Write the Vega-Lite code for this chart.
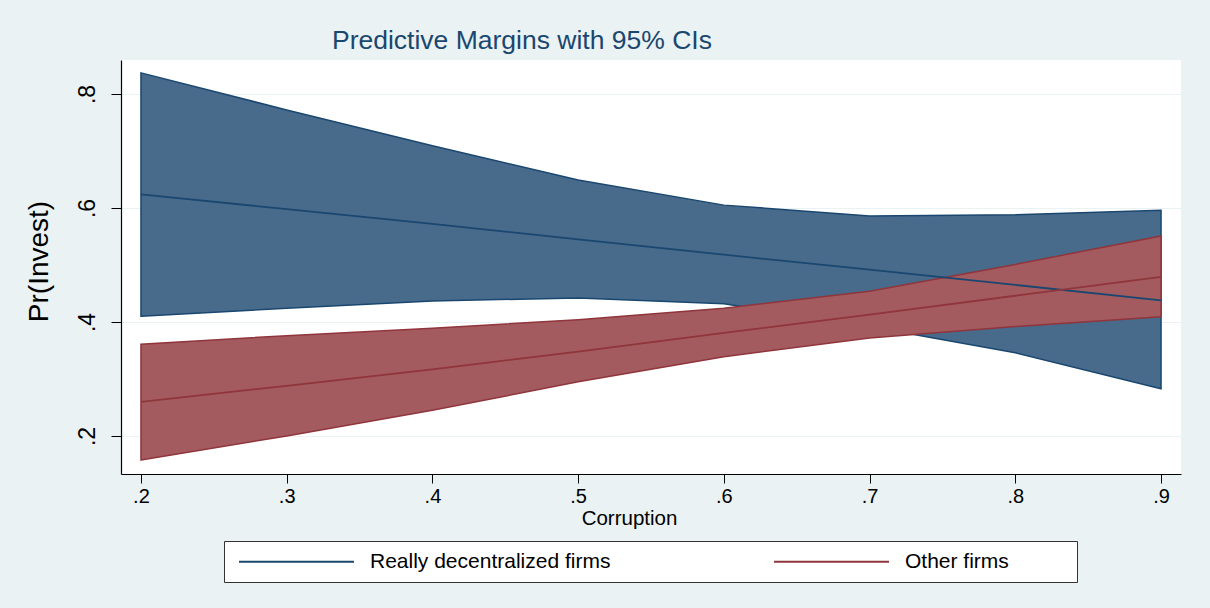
{
  "$schema": "https://vega.github.io/schema/vega-lite/v6.json",
  "width": 1060,
  "height": 414,
  "autosize": {"type": "none"},
  "padding": {"left": 121, "top": 60, "right": 29, "bottom": 134},
  "background": "#EAF2F3",
  "config": {
    "font": "Liberation Sans",
    "view": {"fill": "white", "stroke": null},
    "axis": {"labelFont": "Liberation Sans", "titleFont": "Liberation Sans", "labelColor": "black", "titleColor": "black", "domainColor": "#000000", "tickColor": "#000000", "titleFontWeight": "normal"}
  },
  "title": {
    "text": "Predictive Margins with 95% CIs",
    "anchor": "start",
    "frame": "group",
    "dx": 211,
    "offset": 6,
    "fontSize": 26.5,
    "fontWeight": "normal",
    "color": "#1A476F",
    "font": "Liberation Sans"
  },
  "data": {
    "values": [
      {"corruption": 0.2, "group": "Really decentralized firms", "lo": 0.410, "mean": 0.624, "hi": 0.837},
      {"corruption": 0.3, "group": "Really decentralized firms", "lo": 0.424, "mean": 0.598, "hi": 0.772},
      {"corruption": 0.4, "group": "Really decentralized firms", "lo": 0.437, "mean": 0.572, "hi": 0.709},
      {"corruption": 0.5, "group": "Really decentralized firms", "lo": 0.442, "mean": 0.545, "hi": 0.649},
      {"corruption": 0.6, "group": "Really decentralized firms", "lo": 0.432, "mean": 0.518, "hi": 0.605},
      {"corruption": 0.7, "group": "Really decentralized firms", "lo": 0.392, "mean": 0.492, "hi": 0.586},
      {"corruption": 0.8, "group": "Really decentralized firms", "lo": 0.346, "mean": 0.465, "hi": 0.588},
      {"corruption": 0.9, "group": "Really decentralized firms", "lo": 0.283, "mean": 0.438, "hi": 0.596},
      {"corruption": 0.2, "group": "Other firms", "lo": 0.158, "mean": 0.260, "hi": 0.361},
      {"corruption": 0.3, "group": "Other firms", "lo": 0.200, "mean": 0.288, "hi": 0.376},
      {"corruption": 0.4, "group": "Other firms", "lo": 0.245, "mean": 0.317, "hi": 0.389},
      {"corruption": 0.5, "group": "Other firms", "lo": 0.295, "mean": 0.348, "hi": 0.404},
      {"corruption": 0.6, "group": "Other firms", "lo": 0.339, "mean": 0.381, "hi": 0.424},
      {"corruption": 0.7, "group": "Other firms", "lo": 0.372, "mean": 0.413, "hi": 0.454},
      {"corruption": 0.8, "group": "Other firms", "lo": 0.392, "mean": 0.446, "hi": 0.501},
      {"corruption": 0.9, "group": "Other firms", "lo": 0.409, "mean": 0.479, "hi": 0.551}
    ]
  },
  "encoding": {
    "x": {
      "field": "corruption", "type": "quantitative",
      "scale": {"domain": [0.1863, 0.9137], "nice": false, "zero": false},
      "axis": {
        "title": "Corruption", "titleFontSize": 20.5, "titlePadding": 2, "titleX": 508,
        "values": [0.2, 0.3, 0.4, 0.5, 0.6, 0.7, 0.8, 0.9],
        "labelExpr": "'.' + toString(round(datum.value*10))",
        "labelFontSize": 20, "tickSize": 9, "labelPadding": 3, "grid": false, "domainWidth": 1.2
      }
    },
    "y": {
      "type": "quantitative",
      "scale": {"domain": [0.1333, 0.8596], "nice": false, "zero": false},
      "axis": {
        "title": "Pr(Invest)", "titleFontSize": 28, "titlePadding": 23, "titleY": 201,
        "values": [0.2, 0.4, 0.6, 0.8],
        "labelExpr": "'.' + toString(round(datum.value*10))",
        "labelFontSize": 23, "labelAngle": -90, "labelAlign": "center", "labelBaseline": "bottom",
        "tickSize": 10, "labelPadding": 12, "grid": true, "gridColor": "#EAF2F3", "gridWidth": 1.2, "domainWidth": 1.2
      }
    }
  },
  "layer": [
    {
      "transform": [{"filter": "datum.group === 'Really decentralized firms'"}],
      "mark": {"type": "area", "fill": "#486B8C", "stroke": "#1A476F", "strokeWidth": 1.5, "opacity": 1},
      "encoding": {"y": {"field": "lo", "type": "quantitative"}, "y2": {"field": "hi"}}
    },
    {
      "transform": [{"filter": "datum.group === 'Other firms'"}],
      "mark": {"type": "area", "fill": "#A35B60", "stroke": "#90353B", "strokeWidth": 1.5, "opacity": 1},
      "encoding": {"y": {"field": "lo", "type": "quantitative"}, "y2": {"field": "hi"}}
    },
    {
      "mark": {"type": "line", "strokeWidth": 1.8},
      "encoding": {
        "y": {"field": "mean", "type": "quantitative"},
        "stroke": {
          "field": "group", "type": "nominal",
          "scale": {"domain": ["Really decentralized firms", "Other firms"], "range": ["#1A476F", "#90353B"]},
          "legend": {
            "title": " ", "titleOrient": "right", "titlePadding": 58, "titleFontSize": 21,
            "orient": "none", "legendX": 103, "legendY": 481,
            "direction": "horizontal", "columns": 2,
            "fillColor": "white", "strokeColor": "#333333", "padding": 10,
            "symbolType": "M-11.5,0H11.5", "symbolSize": 100, "symbolStrokeWidth": 2, "symbolOffset": 52,
            "labelFontSize": 21, "labelOffset": 63, "labelColor": "black", "labelFont": "Liberation Sans",
            "columnPadding": 158, "labelLimit": 400
          }
        }
      }
    }
  ]
}
